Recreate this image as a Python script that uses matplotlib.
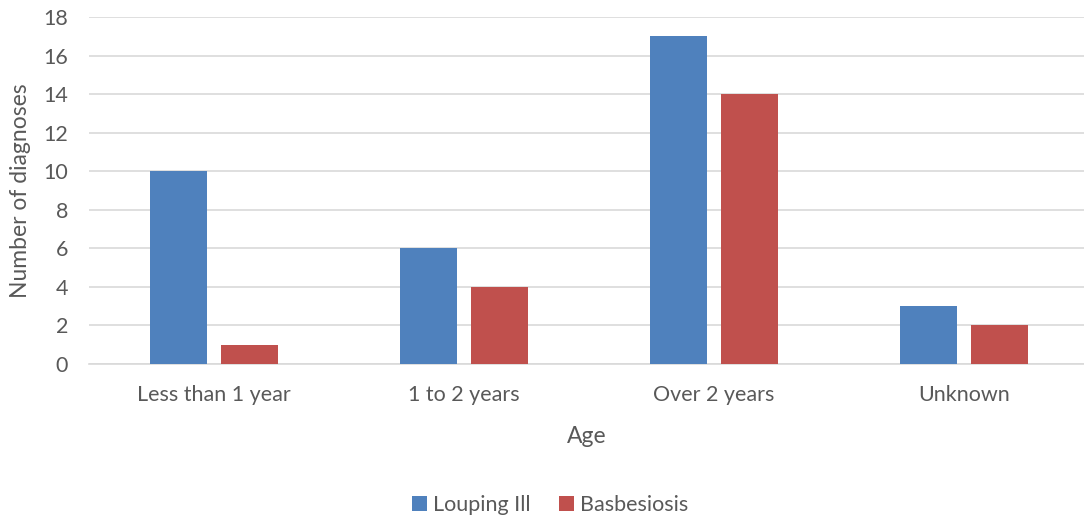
import numpy as np
import matplotlib
matplotlib.use('Agg')
import matplotlib.pyplot as plt

plt.rcParams['font.family'] = ['Lato', 'DejaVu Sans']

# 数据
categories = ['Less than 1 year', '1 to 2 years', 'Over 2 years', 'Unknown']
louping_ill = [10, 6, 17, 3]
babesiosis = [1, 4, 14, 2]

text_color = '#595959'
W, H = 1084, 519

fig = plt.figure(figsize=(W / 100, H / 100), dpi=100)
ax = fig.add_axes([89 / W, 1 - 364 / H, (1084 - 89) / W, (364 - 17) / H])

x = np.arange(len(categories))
bw = 0.228
ax.bar(x - 0.143, louping_ill, bw, color='#4F81BD', label='Louping Ill', zorder=3)
ax.bar(x + 0.143, babesiosis, bw, color='#C0504D', label='Basbesiosis', zorder=3)

ax.set_xlim(-0.5, -0.5 + 995 / 250)
ax.set_ylim(0, 18)
ax.set_yticks(range(0, 19, 2))
ax.set_xticks(x)
ax.set_xticklabels(categories)
ax.tick_params(axis='both', length=0, labelsize=15.5, colors=text_color)
ax.tick_params(axis='x', pad=15)
ax.tick_params(axis='y', pad=15)

ax.grid(axis='y', color='#D9D9D9', linewidth=1.2, zorder=0)
for s in ['top', 'right', 'left']:
    ax.spines[s].set_visible(False)
ax.spines['bottom'].set_color('#D9D9D9')
ax.spines['bottom'].set_linewidth(1.2)

ax.set_ylabel('Number of diagnoses', fontsize=16.5, color=text_color, labelpad=9)
ax.set_xlabel('Age', fontsize=16.5, color=text_color, labelpad=15)

fig.legend(loc='center', bbox_to_anchor=(550 / W, 1 - 505 / H), ncol=2, frameon=False,
           fontsize=15.5, labelcolor=text_color, handlelength=0.7, handleheight=0.7,
           handletextpad=0.3, columnspacing=1.3)

fig.savefig('out.png', dpi=100)
